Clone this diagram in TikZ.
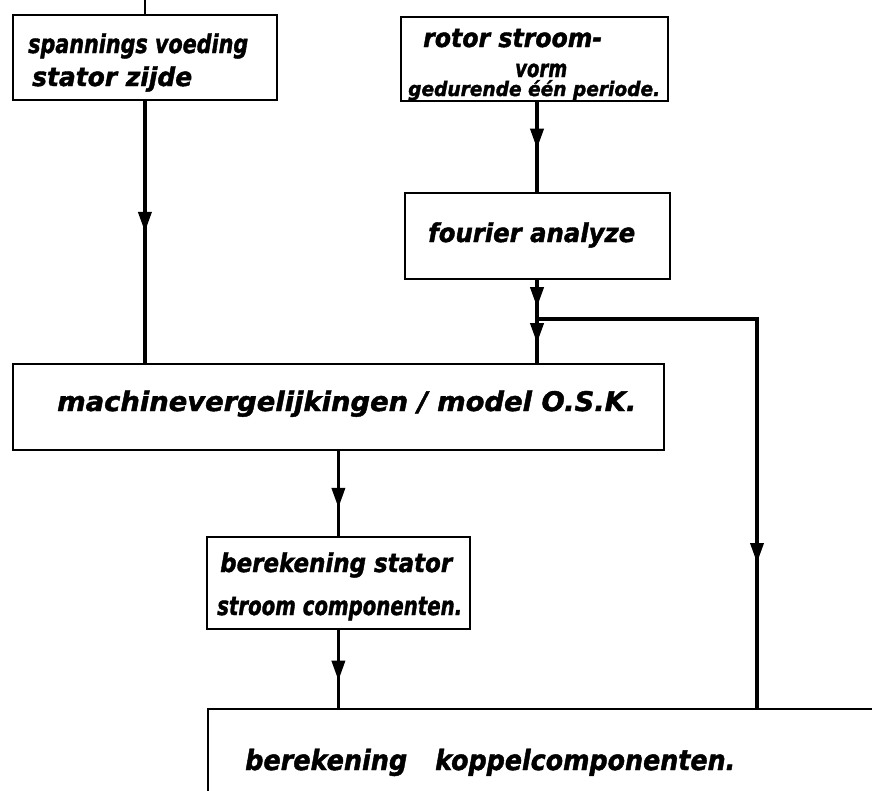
\documentclass[tikz,border=0pt]{standalone}
\usepackage{fontspec}
\setmainfont{DejaVu Sans}[BoldItalicFeatures={FakeBold=1.6}]
\usetikzlibrary{arrows.meta,decorations.markings}

% hand lettering: text set at size #2, stretched to width #1
\newcommand\handtext[3]{\sbox0{\fontsize{#2}{#2}\selectfont #3}\resizebox{#1}{\ht0}{\usebox0}}

\tikzset{
  box/.style={draw, line width=1.8pt, inner sep=0pt, anchor=north west},
  thinline/.style={line width=1.6pt},
  flow/.style={line width=3.6pt},
  lettering/.style={inner sep=0pt, anchor=base west, font=\bfseries\itshape},
  midarrow/.style={postaction={decorate}, decoration={markings,
      mark=at position #1 with {\arrow{Triangle[length=20pt,width=13pt]}}}}
}

\begin{document}
\begin{tikzpicture}[x=1pt,y=-1pt]
\fill[white] (0,0) rectangle (872,790);
\clip (0,0) rectangle (872,790);

% blocks
\node[box, minimum width=264pt, minimum height=85pt] (voed) at (12,14) {};
\node[box, minimum width=267pt, minimum height=84pt] (rot)  at (400,16) {};
\node[box, minimum width=265pt, minimum height=86pt] (four) at (404,192) {};
\node[box, minimum width=651pt, minimum height=86pt] (mach) at (12,363) {};
\node[box, minimum width=263pt, minimum height=92pt] (stat) at (206,536) {};
\node[box, minimum width=720pt, minimum height=130pt] (bot)  at (207,708) {};

% lettering
\node[lettering] (voedA) at (28,53)  {\handtext{220pt}{26pt}{spannings voeding}};
\node[lettering] (voedB) at (32,86)  {\handtext{160pt}{26pt}{stator zijde}};
\node[lettering] (rotA)  at (423,47) {\handtext{179pt}{26pt}{rotor stroom-}};
\node[lettering] (rotB)  at (515,77) {\handtext{52pt}{24pt}{vorm}};
\node[lettering] (rotC)  at (408,96) {\handtext{252pt}{20pt}{gedurende één periode.}};
\node[lettering] (fourA) at (428,242) {\handtext{207pt}{26pt}{fourier analyze}};
\node[lettering] (machA) at (57,411) {\handtext{579pt}{27pt}{machinevergelijkingen / model O.S.K.}};
\node[lettering] (statA) at (220,572) {\handtext{232pt}{26pt}{berekening stator}};
\node[lettering] (statB) at (217,615) {\handtext{245pt}{26pt}{stroom componenten.}};
\node[lettering] (botA)  at (245,770) {\handtext{162pt}{28pt}{berekening}\hspace{28pt}\handtext{300pt}{28pt}{koppelcomponenten.}};

% connectors
\coordinate (tk) at (144,0);
\coordinate (jn) at (537,319);
\coordinate (rc) at (757,319);

\draw[thinline] (voed.north) -- (voed.north |- tk);
\draw[flow, midarrow=0.5]  (voed.south) -- (voed.south |- mach.north);
\draw[flow, midarrow=0.52] (rot.south -| jn) -- (four.north -| jn);
\draw[flow, midarrow=0.7]  (four.south -| jn) -- (jn);
\draw[flow, midarrow=0.55] (jn) -- (jn |- mach.north);
\draw[flow, midarrow=464pt] (jn) -- (rc) -- (rc |- bot.north);
\draw[flow, midarrow=0.67] (mach.south -| stat.north) -- (stat.north);
\draw[flow, midarrow=0.65] (stat.south) -- (stat.south |- bot.north);
\end{tikzpicture}
\end{document}
